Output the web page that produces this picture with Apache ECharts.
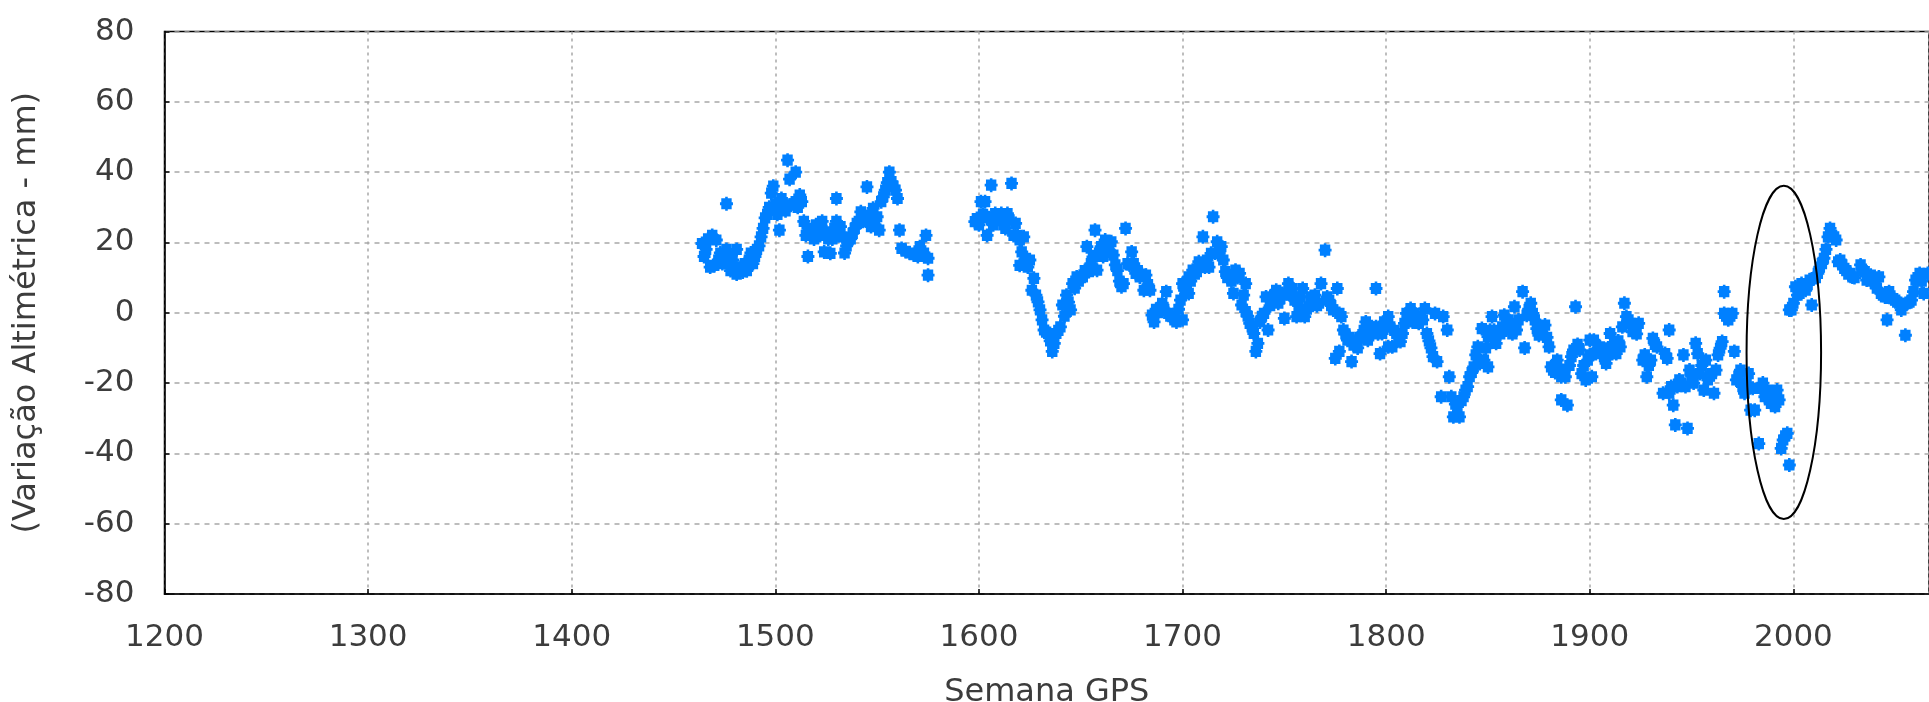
<!DOCTYPE html>
<html>
<head>
<meta charset="utf-8">
<script src="https://cdn.jsdelivr.net/npm/echarts@6/dist/echarts.min.js"></script>
<style>
  html, body { margin: 0; padding: 0; background: #ffffff; overflow: hidden; }
  #chart { width: 1929px; height: 702px; }
</style>
</head>
<body>
<div id="chart"></div>
<script>
// Semana GPS / variação altimétrica (mm), por trecho da série
const trecho1464a1575 = [
  [1464,19.7],[1465,16],[1466,18],[1467,21],[1468,13],[1469,22],[1470,13.5],[1471,20.7],[1472,15],[1473,17],
  [1474,14],[1476,31],[1476,18],[1477,16],[1478,12],[1479,15],[1480,13],[1481,18],[1481,11],[1483,13],
  [1484,11.6],[1485,14],[1486,12],[1487,15],[1488,17],[1489,14],[1490,16],[1491,18],[1492,19],[1493,21.6],
  [1494,24],[1495,27],[1496,28],[1497,30],[1498,34],[1499,36],[1500,31],[1501,28],[1502,23.5],[1503,32.5],
  [1504,30],[1505,29],[1506,43.4],[1507,38],[1507,30.6],[1509,31],[1510,40],[1510,31.6],[1511,30],[1512,33.5],
  [1513,31.6],[1514,26],[1515,22],[1516,24],[1516,16],[1517,23],[1518,22.6],[1519,21],[1520,25],[1521,23.5],
  [1522,22],[1523,26],[1524,17.3],[1525,23],[1526,21],[1527,16.9],[1528,21],[1529,24],[1530,32.5],[1530,26],
  [1531,22],[1532,24.5],[1533,21.6],[1534,17],[1535,19],[1536,20.7],[1537,21],[1538,22.6],[1539,24],[1540,25.4],
  [1541,26],[1542,28.7],[1543,26],[1544,27],[1545,35.8],[1546,27.8],[1547,24.5],[1548,29.7],[1549,25],[1550,27.3],
  [1551,23.5],[1552,31.6],[1553,33],[1554,34.9],[1555,37],[1556,40],[1557,37.3],[1558,36],[1559,34.9],[1560,32.5],
  [1561,23.5],[1562,18.3],[1564,17.5],[1566,17],[1568,16.5],[1570,16],[1571,18.8],[1573,17],[1574,22],[1575,15.5],
  [1575,10.7]
];
const trecho1598a1700 = [
  [1598,25.9],[1599,26.8],[1600,25],[1601,31.6],[1602,28],[1603,31.6],[1604,22],[1605,27],[1606,36.3],[1606,26.4],
  [1607,25],[1608,28.2],[1609,26.8],[1610,27],[1611,28.2],[1612,25],[1613,24],[1614,28.2],[1615,26.4],[1616,36.8],
  [1617,22],[1618,25.4],[1619,22],[1620,20.7],[1620,13.5],[1621,17.3],[1622,21.6],[1623,15.5],[1624,13],[1625,15],
  [1626,6.4],[1627,9.8],[1628,5],[1629,3.1],[1630,0.8],[1631,-2],[1632,-4.9],[1633,-5.5],[1634,-5.9],[1635,-8],
  [1636,-11],[1637,-8.7],[1638,-5.9],[1639,-5],[1640,-4],[1641,2.2],[1642,-1],[1643,5],[1644,3],[1645,0.8],
  [1646,8.3],[1647,7],[1648,10.2],[1649,9],[1650,10],[1651,10.2],[1652,12],[1653,18.8],[1654,11.7],[1655,14],
  [1656,15.9],[1657,23.5],[1658,12.1],[1659,17],[1660,18.8],[1661,16],[1662,20.7],[1663,19],[1664,17.8],[1665,20.2],
  [1666,16.4],[1667,13.6],[1668,12],[1669,9],[1670,7.4],[1671,8.3],[1672,24],[1673,14],[1674,13.6],[1675,17.3],
  [1676,14],[1677,11.2],[1678,12],[1679,10.2],[1680,11],[1681,6.4],[1682,10.7],[1683,8],[1684,6.4],[1685,-0.7],
  [1686,-2.6],[1687,1],[1688,0],[1689,0.8],[1690,2.7],[1691,1],[1692,6],[1693,-0.2],[1694,-1],[1695,-1.1],
  [1696,-2],[1697,-2.6],[1698,1],[1699,3.6],[1700,8.3]
];
const trecho1700a1800 = [
  [1700,-2],[1701,6.4],[1702,8],[1703,10.2],[1703,5.5],[1704,9],[1705,12.1],[1706,11],[1707,11.7],[1708,14.5],
  [1709,13],[1710,21.6],[1711,13],[1712,15],[1713,13],[1714,16.9],[1715,27.3],[1716,17],[1717,20.2],[1718,16.9],
  [1719,18.8],[1720,15],[1721,11.7],[1722,10],[1723,10.2],[1724,9],[1725,5.5],[1726,12.1],[1727,10],[1728,11.2],
  [1729,2.2],[1730,5],[1731,8.3],[1731,0.3],[1732,-1],[1733,-3],[1734,-4],[1735,-5.9],[1736,-11],[1737,-8.7],
  [1738,-2.6],[1739,-1],[1740,-0.2],[1741,4.5],[1742,-4.9],[1743,2],[1744,3.6],[1745,5],[1746,6.4],[1747,2.7],
  [1748,4],[1749,5.5],[1750,-1.6],[1751,5.5],[1752,8.3],[1753,5],[1754,6.9],[1755,3.6],[1756,-1.1],[1757,2],
  [1758,4.5],[1759,6.9],[1760,-1.1],[1761,1],[1762,1.7],[1763,4.5],[1764,3],[1765,5],[1766,2],[1767,2.7],
  [1768,8.3],[1770,17.8],[1771,4.5],[1772,3.6],[1773,2],[1774,0.8],[1775,-13],[1776,6.9],[1777,-0.2],[1777,-11],
  [1778,-1.1],[1779,-4.9],[1780,-6],[1781,-7.8],[1782,-7],[1783,-13.9],[1784,-9.2],[1785,-8],[1786,-10],[1787,-7],
  [1788,-6.8],[1789,-5],[1790,-2.6],[1791,-7.8],[1792,-5],[1793,-4],[1795,6.9],[1795,-4],[1796,-6],[1797,-11.6],
  [1798,-5.9],[1799,-2.6],[1800,-4]
];
const trecho1800a1900 = [
  [1801,-9.7],[1801,-1.1],[1802,-4],[1803,-9.7],[1804,-5],[1805,-5.9],[1806,-7],[1807,-8.2],[1808,-5.9],[1809,-3],
  [1810,-0.2],[1811,-1],[1812,1.2],[1813,-2.6],[1814,-0.2],[1815,-1],[1816,-3],[1817,-1.1],[1818,-2],[1819,1.2],
  [1820,-5.9],[1821,-8],[1822,-10],[1823,-12.5],[1824,-0.2],[1825,-13.9],[1827,-23.9],[1828,-1.1],[1830,-4.9],[1831,-18.2],
  [1832,-23.9],[1833,-29.6],[1834,-26],[1835,-26.7],[1836,-29.6],[1837,-25],[1838,-23.9],[1839,-22],[1840,-21],[1841,-18.2],
  [1842,-17],[1843,-15.4],[1844,-12],[1845,-9.7],[1846,-14.4],[1847,-4.5],[1848,-13.5],[1849,-10],[1850,-15.4],[1850,-6.8],
  [1851,-5],[1852,-1.1],[1853,-5],[1854,-8.7],[1855,-5.9],[1856,-6],[1857,-4],[1858,-0.7],[1859,-4.9],[1860,-2],
  [1861,-3],[1862,-6],[1863,1.7],[1864,-4.9],[1865,-2],[1867,6],[1868,-10],[1869,-0.7],[1870,1],[1871,2.7],
  [1872,-0.2],[1873,-2],[1874,-4.5],[1875,-6.4],[1876,-5],[1878,-3.5],[1879,-7],[1880,-9.7],[1881,-15.4],[1882,-16.3],
  [1883,-17],[1884,-13.5],[1885,-16],[1886,-18.2],[1886,-24.8],[1887,-17],[1888,-18.2],[1889,-26.3],[1890,-15],[1891,-12.5],
  [1892,-10.6],[1893,1.7],[1894,-9],[1895,-10.6],[1896,-17.3],[1897,-15],[1898,-19.1],[1899,-13.5],[1900,-7.8]
];
const trecho1900a2000 = [
  [1900,-12],[1901,-18.2],[1902,-7.8],[1903,-11.6],[1904,-10],[1905,-9.7],[1906,-11],[1907,-12.5],[1908,-14.4],[1909,-10],
  [1910,-5.9],[1911,-11.6],[1912,-9],[1913,-11.6],[1914,-8],[1915,-9.7],[1916,-4],[1917,2.7],[1918,-1.1],[1919,-2],
  [1920,-3],[1921,-5.4],[1922,-4],[1923,-6],[1924,-3],[1926,-13.5],[1927,-12],[1928,-18.2],[1929,-15],[1930,-13.5],
  [1931,-7.3],[1932,-9],[1933,-9.7],[1936,-22.9],[1937,-11.6],[1938,-13],[1939,-4.9],[1939,-22.9],[1940,-21],[1941,-26.3],
  [1942,-31.9],[1943,-21],[1944,-19.1],[1945,-20],[1946,-12],[1947,-21],[1948,-32.9],[1949,-16.3],[1950,-18],[1951,-20],
  [1952,-8.7],[1953,-11.6],[1954,-17.3],[1955,-15],[1956,-22],[1957,-13.5],[1958,-19.1],[1959,-18],[1960,-17.3],[1961,-22.9],
  [1962,-16.3],[1963,-12],[1964,-10.1],[1965,-8.2],[1966,6],[1966,-0.2],[1967,-1],[1968,-2],[1969,-1],[1970,-0.2],
  [1971,-11],[1972,-19.1],[1973,-18],[1974,-16.3],[1975,-21],[1976,-22.9],[1977,-20],[1978,-17.3],[1979,-27.7],[1980,-21.5],
  [1981,-27.7],[1983,-37.2],[1984,-21.5],[1985,-20],[1986,-23.9],[1987,-22],[1988,-24.8],[1989,-25.8],[1990,-24],[1991,-26.7],
  [1992,-22],[1993,-24.8],[1994,-38.6],[1995,-36.2],[1996,-35],[1997,-34.3],[1998,-43.3],[1998,0.8],[1999,0.8],[2000,2.7]
];
const trecho2000a2066 = [
  [2001,7.4],[2002,5],[2003,5.5],[2004,8.3],[2005,7],[2006,6.4],[2007,8],[2008,9.3],[2009,2.2],[2010,9.8],
  [2011,10],[2012,11.2],[2013,13],[2014,14],[2015,15.5],[2016,18],[2017,21.6],[2018,24],[2019,22],[2020,21.6],
  [2021,20.7],[2022,14.5],[2023,15],[2024,13.6],[2025,12.6],[2026,12],[2027,11],[2028,11.2],[2029,10.2],[2030,10],
  [2033,13.6],[2034,12],[2035,11.7],[2036,9.3],[2037,10],[2038,10.7],[2039,9],[2040,8.3],[2041,7],[2042,10.2],
  [2043,5.5],[2044,5],[2045,4.5],[2046,-2],[2047,6],[2048,4.1],[2049,4],[2050,3.6],[2051,3],[2052,2.7],
  [2053,0.8],[2055,-6.4],[2056,2.7],[2057,3],[2058,3.6],[2059,6],[2060,9.3],[2061,10],[2062,11.2],[2063,9],
  [2064,5.5],[2066,11.2]
];

// Elipse de destaque: centro (semana, mm) e semi-eixos (semanas, mm)
const elipseCentro = [1995.3, -11.3];
const elipseSemiEixos = [18.3, 47.4];

// Eixos (o eixo das semanas termina na borda direita da figura)
const semanaMin = 1200, semanaMax = 2066.6, semanaPasso = 100;
const alturaMin = -80, alturaMax = 80, alturaPasso = 20;

const pontos = [].concat(trecho1464a1575, trecho1598a1700, trecho1700a1800,
                         trecho1800a1900, trecho1900a2000, trecho2000a2066);

const fonte = 'DejaVu Sans';
const corTexto = '#3c3c3c';
const marcador = 'path://M1,1 L4,1 L4,0 L6,0 L6,1 L9,1 L9,4 L10,4 L10,6 L9,6 L9,9 L6,9 L6,10 L4,10 L4,9 L1,9 L1,6 L0,6 L0,4 L1,4 Z';

const chart = echarts.init(document.getElementById('chart'), null, { renderer: 'canvas' });

chart.setOption({
  animation: false,
  backgroundColor: '#ffffff',
  grid: {
    left: 164.5, top: 31.5, bottom: 108, right: 0,
    outerBoundsMode: 'none',
    show: true, borderColor: '#000', borderWidth: 1.5, backgroundColor: 'transparent'
  },
  xAxis: {
    type: 'value', min: semanaMin, max: semanaMax, interval: semanaPasso,
    name: 'Semana GPS', nameLocation: 'middle', nameGap: 83,
    nameTextStyle: { fontFamily: fonte, fontSize: 32, color: corTexto },
    axisLine: { show: true, onZero: false, lineStyle: { color: '#000', width: 1.5 } },
    axisTick: { show: true, inside: true, length: 5, lineStyle: { color: '#000', width: 1.5 } },
    axisLabel: { margin: 28, fontFamily: fonte, fontSize: 31, color: corTexto, showMaxLabel: false,
                 formatter: function (v) { return v % semanaPasso === 0 ? String(v) : ''; } },
    splitLine: { show: true, lineStyle: { color: '#a8a8a8', width: 1.5, type: [3, 4] } }
  },
  yAxis: {
    type: 'value', min: alturaMin, max: alturaMax, interval: alturaPasso,
    name: '(Variação Altimétrica - mm)', nameLocation: 'middle', nameGap: 122, nameRotate: 90,
    nameTextStyle: { fontFamily: fonte, fontSize: 32, color: corTexto },
    axisLine: { show: true, onZero: false, lineStyle: { color: '#000', width: 1.5 } },
    axisTick: { show: true, inside: true, length: 5, lineStyle: { color: '#000', width: 1.5 } },
    axisLabel: { margin: 30, fontFamily: fonte, fontSize: 31, color: corTexto },
    splitLine: { show: true, lineStyle: { color: '#a8a8a8', width: 1.5, type: [5, 5] } }
  },
  series: [
    {
      type: 'scatter',
      data: pontos,
      symbol: marcador,
      symbolSize: [13, 14],
      itemStyle: { color: '#0080ff', opacity: 1 },
      clip: true,
      z: 2
    },
    {
      type: 'custom',
      data: [[elipseCentro[0], elipseCentro[1], elipseSemiEixos[0], elipseSemiEixos[1]]],
      renderItem: function (params, api) {
        const c = api.coord([api.value(0), api.value(1)]);
        const s = api.size([api.value(2), api.value(3)]);
        return {
          type: 'ellipse',
          shape: { cx: c[0], cy: c[1], rx: s[0], ry: s[1] },
          style: { fill: 'none', stroke: '#000', lineWidth: 2 }
        };
      },
      z: 5,
      silent: true
    }
  ]
});
</script>
</body>
</html>
